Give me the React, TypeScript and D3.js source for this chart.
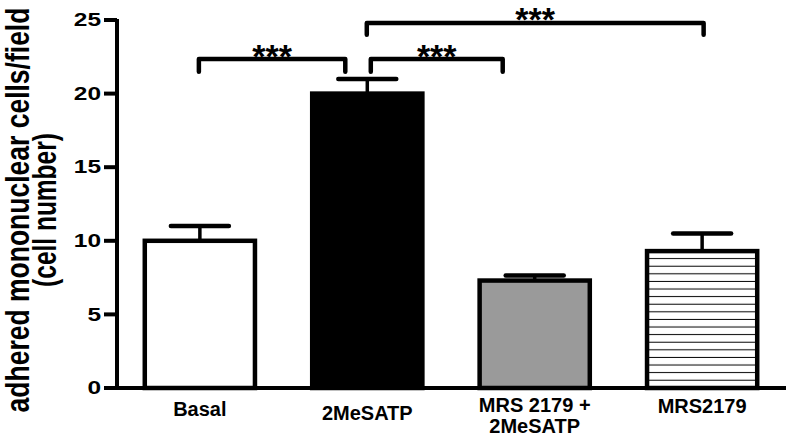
import React from "react";
import * as d3 from "d3";

const categories = ["Basal", "2MeSATP", "MRS 2179 +|2MeSATP", "MRS2179"];
const means = [10, 20, 7.3, 9.3];
const sems = [1, 1, 0.35, 1.2];
const fills = ["white", "black", "#9a9a9a", "url(#hstripes)"];
const yTicks = [0, 5, 10, 15, 20, 25];
const brackets = [
  { from: 0, to: 1, y: 22.35, leg: 0.87, label: "***" },
  { from: 1, to: 2, y: 22.35, leg: 0.87, label: "***" },
  { from: 1, to: 3, y: 24.8, leg: 0.8, label: "***" },
];
// pixel offsets for bracket ends relative to bar centres, and star baseline offsets (style)
const bracketOffsets = [
  [-1, -22],
  [3.5, -32],
  [-0.5, 1.5],
];
const starOffsets = [8.5, 8.5, 8.2];
const labelBaselines = [416, 420, 412, 413];

export default function App() {
  const W = 788, H = 440;
  const x = d3.scaleBand<string>().domain(categories).range([117, 785]).paddingInner(0.33).paddingOuter(0.16);
  const y = d3.scaleLinear().domain([0, 25]).range([388, 20]);
  const bw = x.bandwidth();
  const font = "'Liberation Sans', Arial, sans-serif";
  const stripeTop = y(means[3]);

  return (
    <svg width={W} height={H} style={{ position: "absolute", left: 0, top: 0, background: "white" }}>
      <defs>
        <pattern id="hstripes" patternUnits="userSpaceOnUse" x={0} y={stripeTop + 0.4} width={10} height={7.6}>
          <rect x={0} y={0} width={10} height={7.6} fill="white" />
          <rect x={0} y={6.6} width={10} height={2} fill="black" />
        </pattern>
      </defs>
      {/* bars */}
      {categories.map((c, i) => {
        const x0 = x(c)! + 1;
        const yt = y(means[i]);
        return (
          <rect key={c} x={x0} y={yt} width={bw - 2} height={y(0) - yt} fill={fills[i]} stroke="black" strokeWidth={4.5} />
        );
      })}
      {/* error bars */}
      {categories.map((c, i) => {
        const cx = x(c)! + bw / 2;
        const yt = y(means[i]);
        const ye = y(means[i] + sems[i]);
        return (
          <g key={c + "e"}>
            <line x1={cx} x2={cx} y1={yt} y2={ye} stroke="black" strokeWidth={3.5} />
            <line x1={cx - 29} x2={cx + 29} y1={ye} y2={ye} stroke="black" strokeWidth={4.5} strokeLinecap="round" />
          </g>
        );
      })}
      {/* axes */}
      <line x1={117} x2={117} y1={y(25) - 1} y2={y(0)} stroke="black" strokeWidth={4} />
      <line x1={104} x2={786} y1={y(0)} y2={y(0)} stroke="black" strokeWidth={4} />
      {yTicks.map((t) => (
        <g key={t}>
          <line x1={104} x2={117} y1={y(t)} y2={y(t)} stroke="black" strokeWidth={4} />
          <text
            transform={`translate(101,${y(t) + 6.2}) scale(1.4,1)`}
            textAnchor="end"
            fontFamily={font}
            fontWeight="bold"
            fontSize={17.5}
          >
            {t}
          </text>
        </g>
      ))}
      {/* y label */}
      <text transform={`translate(29,210) scale(1.22,1) rotate(-90)`} textAnchor="middle" fontFamily={font} fontWeight="bold" fontSize={26.5}>
        adhered mononuclear cells/field
      </text>
      <text transform={`translate(56,210) scale(1.35,1) rotate(-90)`} textAnchor="middle" fontFamily={font} fontWeight="bold" fontSize={24.5}>
        (cell number)
      </text>
      {/* x labels */}
      {categories.map((c, i) => {
        const cx = x(c)! + bw / 2;
        const lines = c.split("|");
        return (
          <text key={c + "l"} textAnchor="middle" fontFamily={font} fontWeight="bold" fontSize={20}>
            {lines.map((l, j) => (
              <tspan key={j} x={cx} y={labelBaselines[i] + j * 21}>
                {l}
              </tspan>
            ))}
          </text>
        );
      })}
      {/* significance brackets */}
      {brackets.map((b, i) => {
        const x1 = x(categories[b.from])! + bw / 2 + bracketOffsets[i][0];
        const x2 = x(categories[b.to])! + bw / 2 + bracketOffsets[i][1];
        const yb = y(b.y);
        const yl = y(b.y - b.leg);
        return (
          <g key={"b" + i}>
            <path
              d={`M${x1},${yl}V${yb}H${x2}V${yl}`}
              fill="none"
              stroke="black"
              strokeWidth={4.5}
              strokeLinecap="round"
              strokeLinejoin="round"
            />
            <text x={(x1 + x2) / 2} y={yb + starOffsets[i]} textAnchor="middle" fontFamily={font} fontWeight="bold" fontSize={34}>
              {b.label}
            </text>
          </g>
        );
      })}
    </svg>
  );
}
